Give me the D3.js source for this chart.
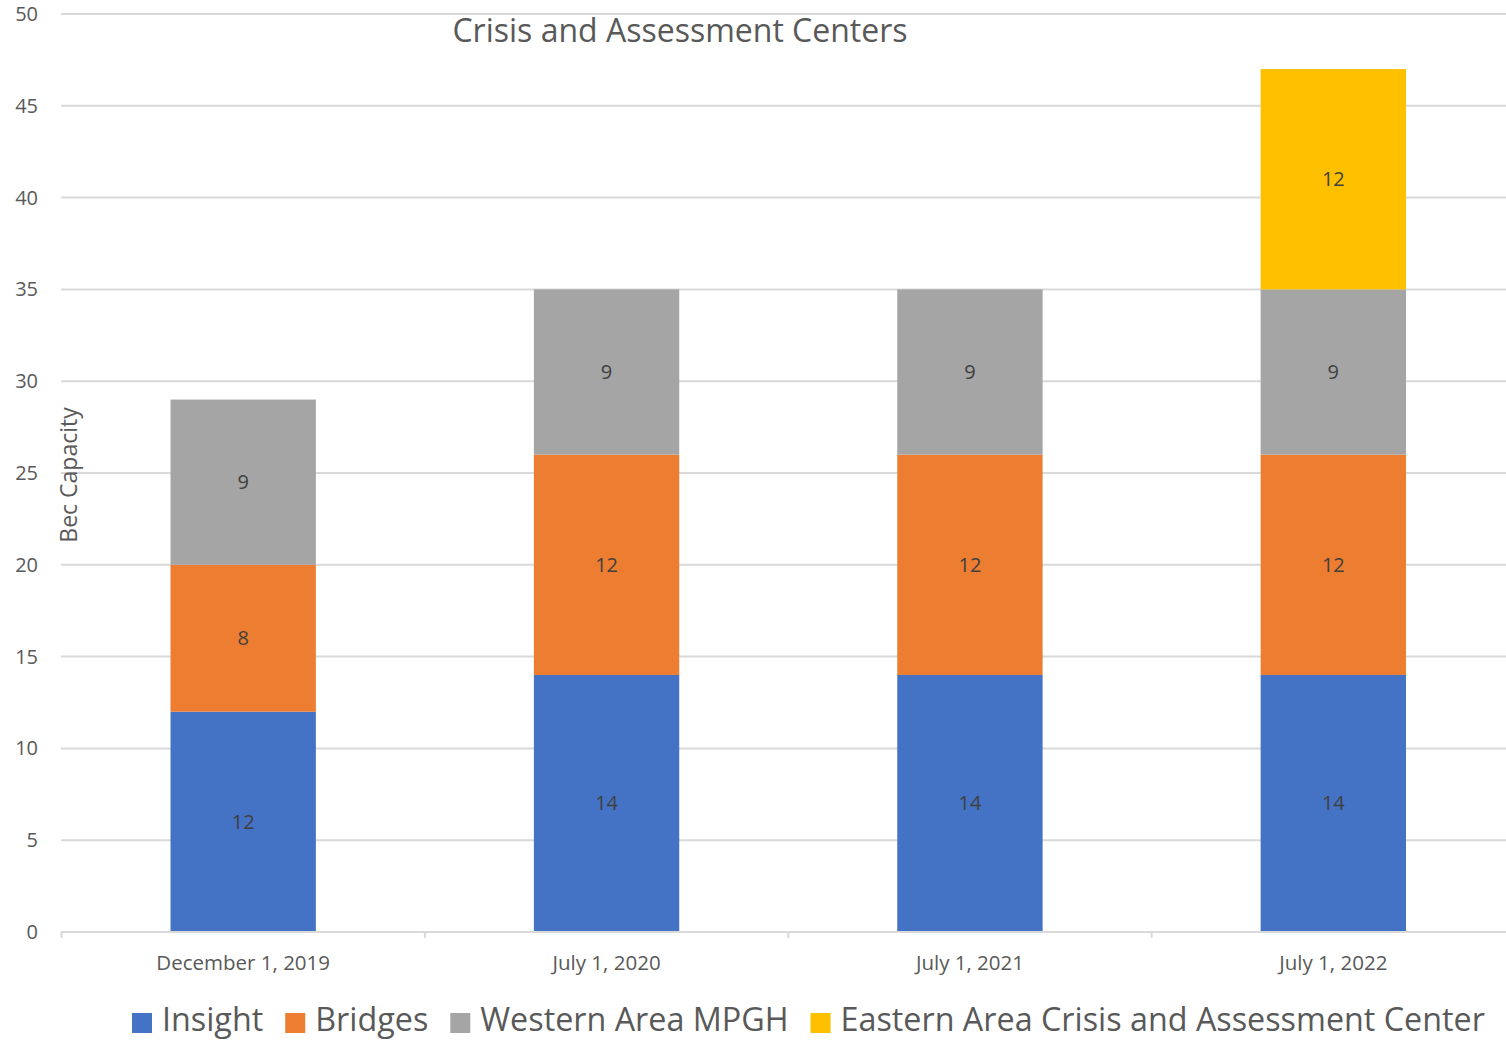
<!DOCTYPE html>
<html><head><meta charset="utf-8">
<script src="https://cdn.jsdelivr.net/npm/d3@7"></script>
<style>body{margin:0;background:#fff;} svg{display:block;} text{font-family:"Open Sans",sans-serif;}</style>
</head><body>
<svg id="c" width="1506" height="1041"></svg>
<script>
const categories = ["December 1, 2019", "July 1, 2020", "July 1, 2021", "July 1, 2022"];
const seriesNames = ["Insight", "Bridges", "Western Area MPGH", "Eastern Area Crisis and Assessment Center"];
const insight = [12, 14, 14, 14];
const bridges = [8, 12, 12, 12];
const western = [9, 9, 9, 9];
const eastern = [0, 0, 0, 12];
const yTicks = [0, 5, 10, 15, 20, 25, 30, 35, 40, 45, 50];
const colors = ["#4472C4", "#ED7D31", "#A5A5A5", "#FFC000"];

const svg = d3.select("#c");
const x = d3.scaleBand().domain(categories).range([61.5, 1515]).paddingInner(0).paddingOuter(0);
const y = d3.scaleLinear().domain([0, 50]).range([932, 14]);
const barW = x.bandwidth() * 0.4;

// gridlines
svg.append("g").selectAll("line").data(yTicks.filter(d => d > 0)).join("line")
  .attr("x1", 61).attr("x2", 1506).attr("y1", d => y(d)).attr("y2", d => y(d))
  .attr("stroke", "#d9d9d9").attr("stroke-width", 2);

// y tick labels
svg.append("g").selectAll("text").data(yTicks).join("text")
  .attr("x", 38).attr("y", d => y(d)).attr("dy", "0.35em").attr("text-anchor", "end")
  .attr("fill", "#595959").style("font-size", "20px").text(d => d);

// stacked data
const rows = categories.map((c, i) => ({cat: c, s0: insight[i], s1: bridges[i], s2: western[i], s3: eastern[i]}));
const stack = d3.stack().keys(["s0", "s1", "s2", "s3"])(rows);

stack.forEach((layer, li) => {
  const g = svg.append("g");
  layer.forEach((d, i) => {
    const v = d[1] - d[0];
    if (v <= 0) return;
    const cx = x(categories[i]) + x.bandwidth() / 2;
    g.append("rect").attr("x", cx - barW / 2).attr("width", barW)
      .attr("y", y(d[1])).attr("height", y(d[0]) - y(d[1])).attr("fill", colors[li]);
    g.append("text").attr("x", cx).attr("y", y((d[0] + d[1]) / 2)).attr("dy", "0.35em")
      .attr("text-anchor", "middle").attr("fill", "#404040").style("font-size", "20px").text(v);
  });
});

// x axis
const ax = svg.append("g");
ax.append("line").attr("x1", 61).attr("x2", 1506).attr("y1", 932).attr("y2", 932)
  .attr("stroke", "#d9d9d9").attr("stroke-width", 2);
const bounds = categories.map(c => x(c)).concat([x(categories[3]) + x.bandwidth()]);
ax.selectAll("line.tk").data(bounds.filter(b => b <= 1506)).join("line").attr("class", "tk")
  .attr("x1", d => d).attr("x2", d => d).attr("y1", 932).attr("y2", 938)
  .attr("stroke", "#d9d9d9").attr("stroke-width", 2);
ax.selectAll("text").data(categories).join("text")
  .attr("x", d => x(d) + x.bandwidth() / 2).attr("y", 970).attr("text-anchor", "middle")
  .attr("fill", "#595959").style("font-size", "20.5px").text(d => d);

// title
svg.append("text").attr("x", 680).attr("y", 42).attr("text-anchor", "middle")
  .attr("fill", "#595959").style("font-size", "32px").text("Crisis and Assessment Centers");

// y title
svg.append("text").attr("transform", "translate(77,475) rotate(-90)").attr("text-anchor", "middle")
  .attr("fill", "#595959").style("font-size", "23px").text("Bec Capacity");

// legend
const legend = svg.append("g");
let lx = 132;
seriesNames.forEach((n, i) => {
  legend.append("rect").attr("x", lx).attr("y", 1013).attr("width", 20).attr("height", 20).attr("fill", colors[i]);
  const t = legend.append("text").attr("x", lx + 30).attr("y", 1031).attr("fill", "#595959")
    .style("font-size", "32.3px").text(n);
  lx += 30 + t.node().getComputedTextLength() + 22;
});
</script>
</body></html>
